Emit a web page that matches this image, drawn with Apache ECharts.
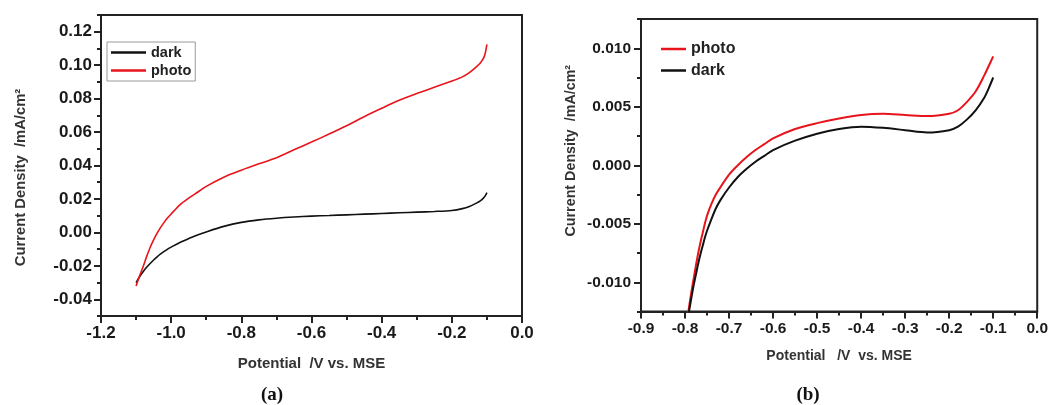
<!DOCTYPE html>
<html>
<head>
<meta charset="utf-8">
<script src="https://cdn.jsdelivr.net/npm/echarts@6/dist/echarts.min.js"></script>
<style>
html,body{margin:0;padding:0;background:#fff;}
#c{width:1051px;height:405px;}
</style>
</head>
<body>
<div id="c"></div>
<script>
// ---- Data: panel (a) ----
const potentialA = [-1.1,-1.09,-1.08,-1.07,-1.06,-1.05,-1.04,-1.03,-1.02,-1.01,-1.0,-0.975,-0.95,-0.925,-0.9,-0.85,-0.8,-0.75,-0.7,-0.65,-0.6,-0.55,-0.5,-0.45,-0.4,-0.35,-0.3,-0.25,-0.2,-0.17,-0.15,-0.13,-0.12,-0.11,-0.105,-0.1];
const darkA  = [-0.030,-0.0265,-0.0235,-0.0209,-0.0186,-0.0165,-0.0146,-0.0129,-0.0114,-0.0100,-0.0088,-0.0060,-0.0037,-0.0016,0.0003,0.0036,0.0060,0.0075,0.0085,0.0092,0.0097,0.0101,0.0105,0.0109,0.0113,0.0117,0.0121,0.0125,0.0131,0.0142,0.0155,0.0175,0.0187,0.0205,0.0218,0.0238];
const photoA = [-0.032,-0.026,-0.0205,-0.0145,-0.0090,-0.0045,-0.0005,0.0030,0.0060,0.0087,0.0110,0.0165,0.0205,0.0240,0.0275,0.0330,0.0372,0.0410,0.0446,0.0494,0.0540,0.0588,0.0638,0.0692,0.0742,0.0790,0.0830,0.0868,0.0905,0.0930,0.0955,0.0990,0.1010,0.1040,0.1070,0.1125];
const yMajorA = [-0.04,-0.02,0.00,0.02,0.04,0.06,0.08,0.10,0.12];
const yMinorA = [-0.05,-0.03,-0.01,0.01,0.03,0.05,0.07,0.09,0.11,0.13];

// ---- Data: panel (b) ----
const potentialB = [-0.795,-0.79,-0.785,-0.78,-0.775,-0.77,-0.765,-0.76,-0.755,-0.75,-0.74,-0.73,-0.72,-0.7,-0.68,-0.66,-0.64,-0.62,-0.6,-0.55,-0.5,-0.45,-0.4,-0.35,-0.3,-0.25,-0.2,-0.18,-0.16,-0.14,-0.12,-0.11,-0.1];
const photoB = [-0.0132,-0.0119,-0.0107,-0.0096,-0.0085,-0.0075,-0.0066,-0.0058,-0.0050,-0.0043,-0.0033,-0.0025,-0.0019,-0.0008,0.0000,0.0007,0.0013,0.0018,0.0023,0.0031,0.0036,0.0040,0.0043,0.0044,0.0043,0.0042,0.0044,0.0047,0.0054,0.0063,0.0077,0.0085,0.0093];
const darkB  = [-0.0134,-0.0123,-0.0112,-0.0102,-0.0093,-0.0084,-0.0076,-0.0069,-0.0062,-0.0056,-0.0046,-0.0037,-0.0030,-0.0019,-0.0010,-0.0003,0.0003,0.0008,0.0013,0.0021,0.0027,0.0031,0.0033,0.0032,0.0030,0.0028,0.0030,0.0033,0.0039,0.0047,0.0058,0.0066,0.0075];
const yMajorB = [-0.010,-0.005,0.000,0.005,0.010];
const yMinorB = [-0.0125,-0.0075,-0.0025,0.0025,0.0075,0.0125];

const xTitleA = 'Potential  /V vs. MSE';
const xTitleB = 'Potential   /V  vs. MSE';
const yTitle = 'Current Density  /mA/cm\u00B2';

const RED = '#e8141b', BLACK = '#111111';
const FONT = '"Liberation Sans", Arial, sans-serif';
const pair = (xs, ys) => xs.map((x, i) => [x, ys[i]]);
const fmt = d => v => (Math.abs(v) < 1e-9 ? 0 : v).toFixed(d);

const GA = {left: 101, top: 15, width: 421, height: 301};
const GB = {left: 641, top: 19, width: 397.5, height: 292.5};

const chart = echarts.init(document.getElementById('c'), null, {renderer: 'canvas'});

function xAxisDef(grid, min, max, interval, dec, fs, name, gap, nfs) {
  return {
    type: 'value', gridIndex: grid, min, max, interval,
    name, nameLocation: 'middle', nameGap: gap,
    nameTextStyle: {fontFamily: FONT, fontWeight: 'bold', fontSize: nfs, color: '#333'},
    axisLine: {show: true, onZero: false, lineStyle: {color: '#222', width: 2}},
    axisTick: {show: true, inside: false, length: 7, lineStyle: {color: '#222', width: 2}},
    minorTick: {show: true, splitNumber: 2, length: 4, lineStyle: {color: '#222', width: 2}},
    axisLabel: {formatter: fmt(dec), fontFamily: FONT, fontWeight: 'bold', fontSize: fs, color: '#1a1a1a', margin: 9},
    splitLine: {show: false}, minorSplitLine: {show: false}
  };
}
function hiddenX(grid, min, max) {
  return {type: 'value', gridIndex: grid, min, max, show: false};
}
function yAxisMajor(grid, min, max, vals, dec, fs, margin) {
  return {
    type: 'value', gridIndex: grid, min, max, position: 'left',
    axisLine: {show: true, onZero: false, lineStyle: {color: '#222', width: 2}},
    axisTick: {show: true, inside: false, length: 7, customValues: vals, lineStyle: {color: '#222', width: 2}},
    axisLabel: {customValues: vals, formatter: fmt(dec), fontFamily: FONT, fontWeight: 'bold', fontSize: fs, color: '#1a1a1a', margin},
    splitLine: {show: false}
  };
}
// minor ticks live on an overlaid, otherwise invisible grid
function yAxisMinor(grid, min, max, vals) {
  return {
    type: 'value', gridIndex: grid, min, max, position: 'left',
    axisLine: {show: false, onZero: false},
    axisTick: {show: true, inside: false, length: 4, customValues: vals, lineStyle: {color: '#222', width: 2}},
    axisLabel: {show: false},
    splitLine: {show: false}
  };
}

const lineSeries = (name, xi, yi, data, color, w) => ({
  name, type: 'line', xAxisIndex: xi, yAxisIndex: yi, data,
  showSymbol: false, symbol: 'none', smooth: 0.3, clip: true,
  lineStyle: {color, width: w}, itemStyle: {color}
});

chart.setOption({
  animation: false,
  backgroundColor: '#fff',
  grid: [
    Object.assign({show: true, borderColor: '#222', borderWidth: 2, backgroundColor: 'transparent'}, GA),
    Object.assign({show: true, borderColor: '#222', borderWidth: 2, backgroundColor: 'transparent'}, GB),
    Object.assign({show: false}, GA),
    Object.assign({show: false}, GB)
  ],
  xAxis: [
    xAxisDef(0, -1.2, 0, 0.2, 1, 17, xTitleA, 40, 15),
    xAxisDef(1, -0.9, 0, 0.1, 1, 15.5, xTitleB, 38, 14),
    hiddenX(2, -1.2, 0),
    hiddenX(3, -0.9, 0)
  ],
  yAxis: [
    yAxisMajor(0, -0.05, 0.13, yMajorA, 2, 17, 9),
    yAxisMajor(1, -0.0125, 0.0125, yMajorB, 3, 15.5, 10),
    yAxisMinor(2, -0.05, 0.13, yMinorA),
    yAxisMinor(3, -0.0125, 0.0125, yMinorB)
  ],
  legend: [
    {
      data: ['dark', 'photo'], orient: 'vertical', left: 107, top: 42,
      padding: [3, 4, 3, 4], itemGap: 3, itemWidth: 35, itemHeight: 2.5, icon: 'rect',
      borderColor: '#999', borderWidth: 1,
      textStyle: {fontFamily: FONT, fontWeight: 'bold', fontSize: 14.5, color: '#222', lineHeight: 15}
    },
    {
      data: ['photo', 'dark'], orient: 'vertical', left: 661, top: 41,
      padding: 0, itemGap: 5.5, itemWidth: 25, itemHeight: 2.5, icon: 'rect',
      textStyle: {fontFamily: FONT, fontWeight: 'bold', fontSize: 16, color: '#222', lineHeight: 16}
    }
  ],
  series: [
    lineSeries('dark', 0, 0, pair(potentialA, darkA), BLACK, 1.6),
    lineSeries('photo', 0, 0, pair(potentialA, photoA), RED, 1.6),
    lineSeries('photo', 1, 1, pair(potentialB, photoB), RED, 2),
    lineSeries('dark', 1, 1, pair(potentialB, darkB), BLACK, 2)
  ],
  graphic: [
    {type: 'text', x: 21, y: 177.5, rotation: Math.PI / 2,
     style: {text: yTitle, font: 'bold 14.8px ' + FONT, fill: '#333', align: 'center', verticalAlign: 'middle'}},
    {type: 'text', x: 570.7, y: 150.7, rotation: Math.PI / 2,
     style: {text: yTitle, font: 'bold 14.3px ' + FONT, fill: '#333', align: 'center', verticalAlign: 'middle'}},
    {type: 'text', x: 272, y: 395,
     style: {text: '(a)', font: 'bold 19px "Liberation Serif", serif', fill: '#111', align: 'center', verticalAlign: 'middle'}},
    {type: 'text', x: 808, y: 395,
     style: {text: '(b)', font: 'bold 19px "Liberation Serif", serif', fill: '#111', align: 'center', verticalAlign: 'middle'}}
  ]
});
</script>
</body>
</html>
